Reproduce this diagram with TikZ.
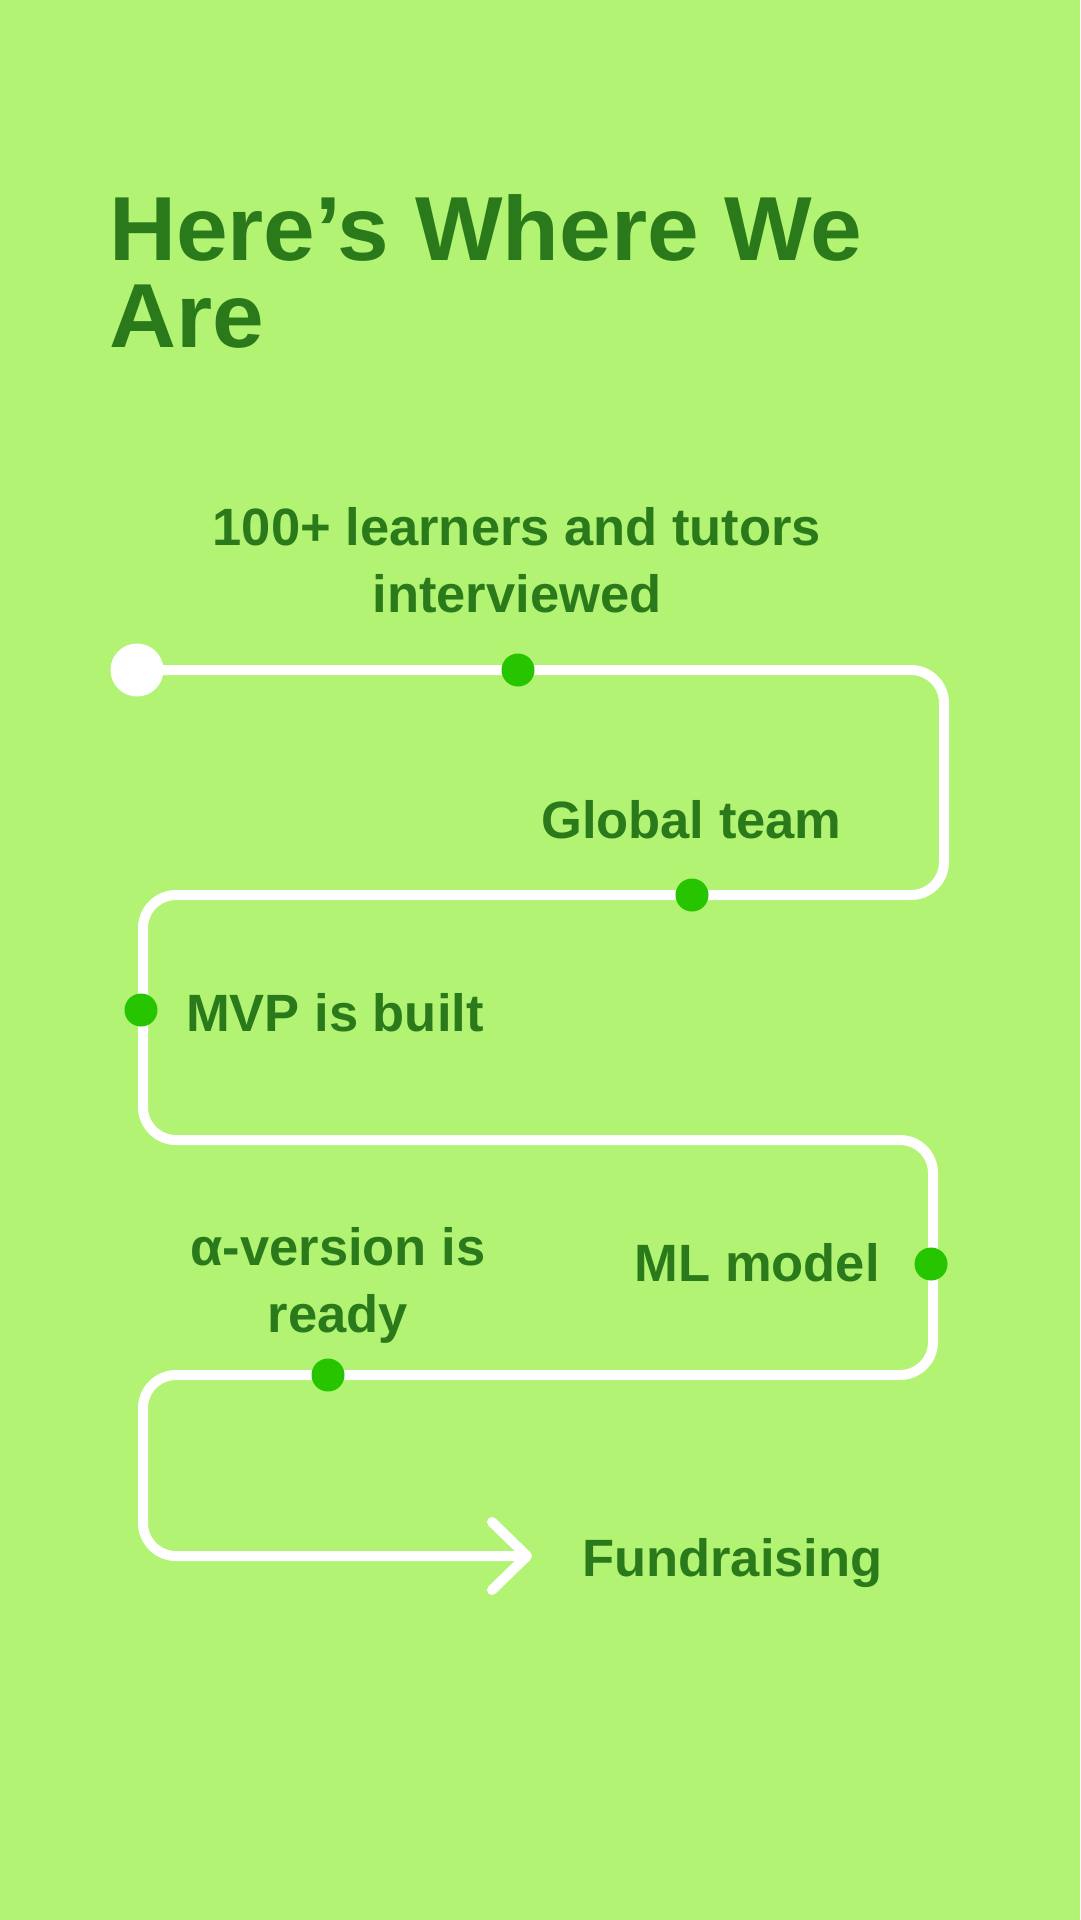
\documentclass[tikz,border=0pt]{standalone}
\usepackage{fontspec}
\setmainfont{Liberation Sans}
\definecolor{bg}{HTML}{B2F373}
\definecolor{ink}{HTML}{2A7A1B}
\definecolor{dotc}{HTML}{27C400}
\begin{document}
\begin{tikzpicture}[x=1pt,y=-1pt,
  lab/.style={text=ink,font=\bfseries\fontsize{52.5}{67}\selectfont,inner sep=0pt},
  ttl/.style={anchor=base west,text=ink,inner sep=0pt,font=\bfseries\fontsize{91}{87}\selectfont},
  route/.style={draw=white,line width=10pt,rounded corners=33pt},
  milestone/.style={circle,fill=dotc,minimum size=33pt,inner sep=0pt},
  startdot/.style={circle,fill=white,minimum size=53pt,inner sep=0pt}]
\fill[bg] (0,0) rectangle (1080,1920);
\useasboundingbox (0,0) rectangle (1080,1920);
% title
\node[ttl] (t1) at (109,260) {\scalebox{1.02}[1]{Here’s Where We}};
\node[ttl] (t2) at (109,347) {\scalebox{1.02}[1]{Are}};
% route corners
\coordinate (s) at (137,670);
\coordinate (c1) at (944,670);
\coordinate (c2) at (944,895);
\coordinate (c3) at (143,895);
\coordinate (c4) at (143,1140);
\coordinate (c5) at (933,1140);
\coordinate (c6) at (933,1375);
\coordinate (c7) at (143,1375);
\coordinate (c8) at (143,1556);
\coordinate (e) at (527,1556);
\draw[route] (s) -- (c1) -- (c2) -- (c3) -- (c4) -- (c5) -- (c6) -- (c7) -- (c8) -- (e);
\coordinate (a1) at (492,1522);
\coordinate (a2) at (492,1590);
\draw[white,line width=10pt,line cap=round,line join=round] (a1) -- (e) -- (a2);
% dots
\node[startdot] (start) at (s) {};
\node[milestone] (d1) at (518,670) {};
\node[milestone] (d2) at (692,895) {};
\node[milestone] (d3) at (141,1010) {};
\node[milestone] (d4) at (931,1264) {};
\node[milestone] (d5) at (328,1375) {};
% labels
\node[lab,anchor=base,align=center] (l1) at (517,612) {100+ learners and tutors\\interviewed};
\node[lab,anchor=base west] (l2) at (541,838) {Global team};
\node[lab,anchor=base west] (l3) at (186,1031) {MVP is built};
\node[lab,anchor=base,align=center] (l4) at (338,1332) {α-version is\\ready};
\node[lab,anchor=base east] (l5) at (880,1281) {ML model};
\node[lab,anchor=base west] (l6) at (582,1576) {Fundraising};
\end{tikzpicture}
\end{document}
